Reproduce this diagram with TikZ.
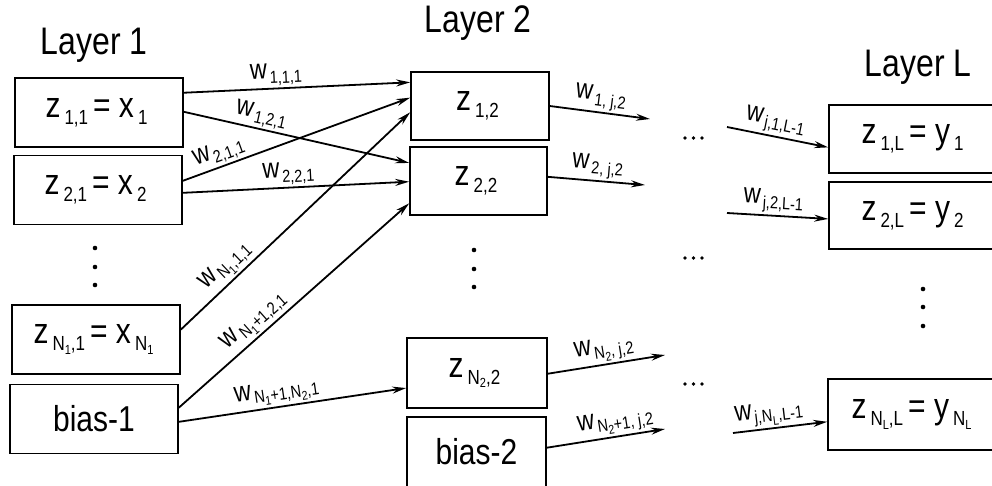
\documentclass[tikz,border=0pt]{standalone}
\usepackage{fontspec}
\usepackage{graphicx}
\setmainfont{Liberation Sans}
\usetikzlibrary{arrows.meta,calc}
\newcommand\T[1]{\scalebox{1}[1.2]{#1}}
\newcommand\bsub[1]{\hspace{4pt}\raisebox{-6pt}{\fontsize{17}{17}\selectfont #1}\hspace{5pt}}
\newcommand\bssub[1]{\raisebox{-3pt}{\fontsize{11}{11}\selectfont #1}}
\newcommand\lsub[1]{\hspace{2.5pt}\raisebox{-4pt}{\fontsize{14.5}{14.5}\selectfont #1}}
\newcommand\lssub[1]{\raisebox{-3pt}{\fontsize{10.5}{10.5}\selectfont #1}}
\newcommand\edgept[3]{($(#1.north #2)!#3!(#1.south #2)$)}
\tikzset{
  x=1pt, y=-1pt,
  box/.style={draw, line width=1.6pt, minimum height=69pt, inner sep=0pt, font=\fontsize{30}{30}\selectfont},
  layer/.style={font=\fontsize{32}{32}\selectfont},
  conn/.style={line width=1.8pt, -{Stealth[length=14pt,width=7pt]}},
  wl/.style={sloped, above, inner sep=2pt, font=\fontsize{23.5}{23.5}\selectfont},
}
\begin{document}
\begin{tikzpicture}
\clip (0,0) rectangle (992,485);
\fill[white] (0,0) rectangle (992,485);
% layer titles
\node[layer] (t1) at (94,45) {\T{Layer 1}};
\node[layer] (t2) at (478,23) {\T{Layer 2}};
\node[layer] (tL) at (918,67) {\T{Layer L}};
% layer 1
\node[box, minimum width=168pt] (z11) at (99,112.5) {\T{z\bsub{1,1}= x\bsub{1}}};
\node[box, minimum width=168pt] (z21) at (98,190) {\T{z\bsub{2,1}= x\bsub{2}}};
\node[box, minimum width=168pt] (zN1) at (96,339.5) {\T{z\bsub{N\bssub{1},1}= x\bsub{N\bssub{1}}}};
\node[box, minimum width=168pt] (b1) at (94,419) {\T{bias-1}};
% layer 2
\node[box, minimum width=138pt, minimum height=68pt] (z12) at (480,106) {\T{z\bsub{1,2}}};
\node[box, minimum width=137pt, minimum height=68pt] (z22) at (478.5,181) {\T{z\bsub{2,2}}};
\node[box, minimum width=140pt, minimum height=70pt] (zN2) at (477,373) {\T{z\bsub{N\bssub{2},2}}};
\node[box, minimum width=139pt, minimum height=70pt] (b2) at (476.5,452) {\T{bias-2}};
% layer L
\node[box, minimum width=172pt, minimum height=68pt] (z1L) at (915,139) {\T{z\bsub{1,L}= y\bsub{1}}};
\node[box, minimum width=172pt, minimum height=67pt] (z2L) at (915,215.5) {\T{z\bsub{2,L}= y\bsub{2}}};
\node[box, minimum width=172pt, minimum height=71pt] (zNL) at (914,414.5) {\T{z\bsub{N\bssub{L},L}= y\bsub{N\bssub{L}}}};
% vertical dots
\foreach \yy in {248,267,285} \fill (95,\yy) circle (2.3pt);
\foreach \yy in {250,269,287} \fill (474,\yy) circle (2.3pt);
\foreach \yy in {289,307,326} \fill (923,\yy) circle (2.3pt);
% horizontal dots
\foreach \yy in {138,258,384} \foreach \xx in {685,693.5,702} \fill (\xx,\yy) circle (1.9pt);
% free ends
\coordinate (o1) at (650,119);
\coordinate (o2) at (645,185);
\coordinate (o3) at (665,355);
\coordinate (o4) at (665,429);
\coordinate (i1) at (727,127);
\coordinate (i2) at (727,213);
\coordinate (i3) at (733,433);
% layer 1 -> layer 2
\draw[conn] \edgept{z11}{east}{0.22} -- node[wl, pos=0.41] {\T{w\lsub{1,1,1}}} \edgept{z12}{west}{0.16};
\draw[conn] \edgept{z11}{east}{0.49} -- node[wl, pos=0.33] {\T{w\lsub{1,2,1}}} \edgept{z22}{west}{0.24};
\draw[conn] \edgept{z21}{east}{0.37} -- node[wl, pos=0.18] {\T{w\lsub{2,1,1}}} \edgept{z12}{west}{0.38};
\draw[conn] \edgept{z21}{east}{0.54} -- node[wl, pos=0.47] {\T{w\lsub{2,2,1}}} \edgept{z22}{west}{0.51};
\draw[conn] \edgept{zN1}{east}{0.36} -- node[wl, pos=0.24] {\T{w\lsub{N\lssub{1},1,1}}} \edgept{z12}{west}{0.59};
\draw[conn] \edgept{b1}{east}{0.34} -- node[wl, pos=0.37] {\T{w\lsub{N\lssub{1}+1,2,1}}} \edgept{z22}{west}{0.82};
\draw[conn] \edgept{b1}{east}{0.54} -- node[wl, pos=0.44] {\T{w\lsub{N\lssub{1}+1,N\lssub{2},1}}} \edgept{zN2}{west}{0.71};
% layer 2 outputs
\draw[conn] \edgept{z12}{east}{0.5} -- node[wl, pos=0.49] {\T{w\lsub{1, j,2}}} (o1);
\draw[conn] \edgept{z22}{east}{0.44} -- node[wl, pos=0.5] {\T{w\lsub{2, j,2}}} (o2);
\draw[conn] \edgept{zN2}{east}{0.51} -- node[wl, pos=0.5] {\T{w\lsub{N\lssub{2}, j,2}}} (o3);
\draw[conn] \edgept{b2}{east}{0.44} -- node[wl, pos=0.6] {\T{w\lsub{N\lssub{2}+1, j,2}}} (o4);
% layer L inputs
\draw[conn] (i1) -- node[wl, pos=0.45] {\T{w\lsub{j,1,L-1}}} \edgept{z1L}{west}{0.62};
\draw[conn] (i2) -- node[wl, pos=0.45] {\T{w\lsub{j,2,L-1}}} \edgept{z2L}{west}{0.55};
\draw[conn] (i3) -- node[wl, pos=0.4] {\T{w\lsub{j,N\lssub{L},L-1}}} \edgept{zNL}{west}{0.6};
\end{tikzpicture}
\end{document}
